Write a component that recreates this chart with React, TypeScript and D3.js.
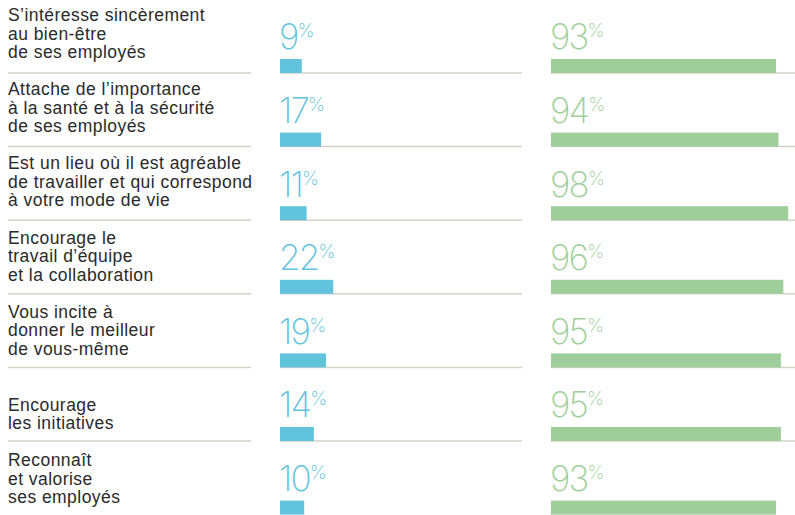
import React, { useEffect, useRef } from 'react';
import * as d3 from 'd3';

// rows, top to bottom
const labels: string[][] = [
  ['S\u2019intéresse sincèrement', 'au bien-être', 'de ses employés'],
  ['Attache de l\u2019importance', 'à la santé et à la sécurité', 'de ses employés'],
  ['Est un lieu où il est agréable', 'de travailler et qui correspond', 'à votre mode de vie'],
  ['Encourage le', 'travail d\u2019équipe', 'et la collaboration'],
  ['Vous incite à', 'donner le meilleur', 'de vous-même'],
  ['Encourage', 'les initiatives'],
  ['Reconnaît', 'et valorise', 'ses employés'],
];
const blueValues = [9, 17, 11, 22, 19, 14, 10];
const greenValues = [93, 94, 98, 96, 95, 95, 93];

const W = 795;
const H = 515;
const BLUE = '#62c4dc';
const GREEN = '#9ecf9a';
const RULE = '#d3d1c9';

export default function App() {
  const ref = useRef<SVGSVGElement>(null);

  useEffect(() => {
    const svg = d3.select(ref.current);
    svg.selectAll('*').remove();

    const idx = d3.range(labels.length);
    const rows = d3.scaleBand<number>().domain(idx).range([-0.6, H - 0.4]);
    // label blocks run on a slightly longer pitch than the rules
    const textRows = d3.scaleBand<number>().domain(idx).range([0, 74.2 * labels.length]);

    const x = d3.scaleLinear().domain([0, 100]).range([0, 242]);

    const cols = [
      { x0: 280, values: blueValues, color: BLUE, ruleEnd: 522 },
      { x0: 551, values: greenValues, color: GREEN, ruleEnd: W },
    ];

    const row = svg.selectAll('g.row')
      .data(labels)
      .join('g')
      .attr('class', 'row')
      .attr('transform', (_, i) => `translate(0,${rows(i)})`);

    const bottom = rows.bandwidth();

    // separator rules (not under the last row)
    const rules = row.filter((_, i) => i < labels.length - 1);
    rules.append('line')
      .attr('x1', 8).attr('x2', 251)
      .attr('y1', bottom).attr('y2', bottom)
      .attr('stroke', RULE).attr('stroke-width', 1.5);
    cols.forEach(c => {
      rules.append('line')
        .attr('x1', c.x0).attr('x2', c.ruleEnd)
        .attr('y1', bottom).attr('y2', bottom)
        .attr('stroke', RULE).attr('stroke-width', 1.5);
    });

    // labels
    svg.selectAll('text.label')
      .data(labels)
      .join('text')
      .attr('class', 'label')
      .attr('font-family', '"Liberation Sans", Arial, sans-serif')
      .attr('font-size', 17.5)
      .attr('letter-spacing', 0.45)
      .attr('fill', '#2a2a2a')
      .selectAll('tspan')
      .data((d, i) => (d.length === 2 ? ['', ...d] : d).map((t, j) => ({ t, j, i })))
      .join('tspan')
      .attr('x', 8)
      .attr('y', d => (textRows(d.i) as number) + 21 + d.j * 18.5)
      .text(d => d.t);

    cols.forEach(c => {
      row.append('rect')
        .attr('x', c.x0)
        .attr('y', bottom - 14)
        .attr('width', (_, i) => x(c.values[i]))
        .attr('height', 14)
        .attr('fill', c.color);

      const t = row.append('text')
        .attr('x', c.x0 - 1)
        .attr('y', 50)
        .attr('font-family', 'Inter, Lato, Roboto, sans-serif')
        .attr('font-weight', 200)
        .attr('fill', c.color);
      t.append('tspan')
        .attr('font-size', 35)
        .attr('letter-spacing', -1.8)
        .text((_, i) => String(c.values[i]));
      t.append('tspan')
        .attr('font-size', 19)
        .attr('dy', -12)
        .text('%');
    });
  }, []);

  return (
    <svg
      ref={ref}
      width={W}
      height={H}
      style={{ position: 'absolute', left: 0, top: 0, background: '#fff' }}
    />
  );
}
